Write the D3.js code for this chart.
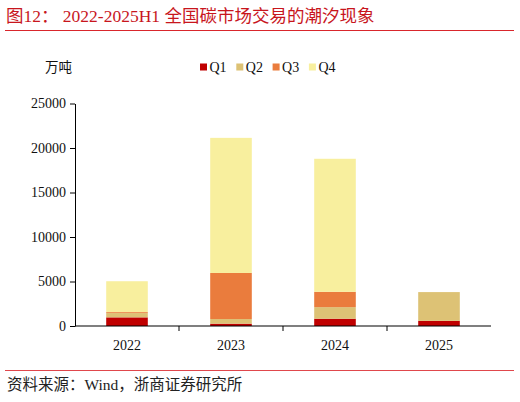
<!DOCTYPE html>
<html>
<head>
<meta charset="utf-8">
<script src="https://cdn.jsdelivr.net/npm/d3@7"></script>
<style>
  body { margin: 0; background: #fff; }
  svg { display: block; }
  .serif { font-family: "Liberation Serif", "Noto Sans CJK SC", serif; }
</style>
</head>
<body>
<div id="chart"></div>
<script>
// data (万吨)
var years = ["2022", "2023", "2024", "2025"];
var quarters = ["Q1", "Q2", "Q3", "Q4"];
var q1 = [970, 260, 820, 580];
var q2 = [480, 520, 1300, 3230];
var q3 = [110, 5180, 1720, 0];
var q4 = [3470, 15180, 14950, 0];
var yTicks = [0, 5000, 10000, 15000, 20000, 25000];
var colors = ["#C00000", "#DDC275", "#EA7C3D", "#F8EF9E"];

var W = 520, H = 402;
var plotLeft = 75, plotRight = 491, plotTop = 103.5, plotBottom = 326;

var svg = d3.select("#chart").append("svg")
    .attr("width", W)
    .attr("height", H);

// title + rules
svg.append("text")
    .attr("class", "serif")
    .attr("x", 6).attr("y", 22)
    .attr("fill", "#C8161D")
    .style("font-size", "17.5px")
    .text("图12：  2022-2025H1 全国碳市场交易的潮汐现象");

svg.append("line")
    .attr("x1", 5).attr("x2", 514)
    .attr("y1", 30.5).attr("y2", 30.5)
    .attr("stroke", "#D9262C").attr("stroke-width", 1.2);

svg.append("line")
    .attr("x1", 5).attr("x2", 514)
    .attr("y1", 370.5).attr("y2", 370.5)
    .attr("stroke", "#E0474C").attr("stroke-width", 1.2);

svg.append("text")
    .attr("class", "serif")
    .attr("x", 7).attr("y", 390)
    .attr("fill", "#222")
    .style("font-size", "15.5px")
    .text("资料来源：Wind，浙商证券研究所");

// rows for the stack
var rows = years.map(function (y, i) {
    return { year: y, Q1: q1[i], Q2: q2[i], Q3: q3[i], Q4: q4[i] };
});
var stacked = d3.stack().keys(quarters)(rows);

var x = d3.scaleBand()
    .domain(years)
    .range([plotLeft, plotRight])
    .paddingInner(0.6)
    .paddingOuter(0.3);

var y = d3.scaleLinear()
    .domain([0, 25000])
    .range([plotBottom, plotTop]);

var color = d3.scaleOrdinal().domain(quarters).range(colors);

// bars
svg.append("g")
    .selectAll("g")
    .data(stacked)
    .enter()
    .append("g")
    .attr("fill", function (d) { return color(d.key); })
    .selectAll("rect")
    .data(function (d) { return d; })
    .enter()
    .append("rect")
    .attr("x", function (d) { return x(d.data.year); })
    .attr("y", function (d) { return y(d[1]); })
    .attr("width", x.bandwidth())
    .attr("height", function (d) { return y(d[0]) - y(d[1]); });

// y axis
var yAxis = svg.append("g")
    .attr("transform", "translate(" + plotLeft + ",0)")
    .call(d3.axisLeft(y).tickValues(yTicks).tickFormat(d3.format("d"))
        .tickSize(5).tickPadding(4).tickSizeOuter(0));
yAxis.select(".domain").attr("stroke", "#000");
yAxis.selectAll("line").attr("stroke", "#000");
yAxis.selectAll("text")
    .attr("class", "serif")
    .attr("fill", "#111")
    .style("font-size", "14px");

// x axis: ticks sit between categories
var gap = x.step() * x.paddingInner() / 2;
var xg = svg.append("g").attr("transform", "translate(0," + plotBottom + ")");
xg.append("line")
    .attr("x1", plotLeft).attr("x2", plotRight)
    .attr("stroke", "#000").attr("stroke-width", 1.2);
xg.selectAll(".tk")
    .data(years.slice(1))
    .enter()
    .append("line")
    .attr("x1", function (d) { return x(d) - gap; })
    .attr("x2", function (d) { return x(d) - gap; })
    .attr("y1", 0).attr("y2", 5)
    .attr("stroke", "#000");
xg.selectAll(".lb")
    .data(years)
    .enter()
    .append("text")
    .attr("class", "serif")
    .attr("x", function (d) { return x(d) + x.bandwidth() / 2; })
    .attr("y", 24)
    .attr("text-anchor", "middle")
    .attr("fill", "#111")
    .style("font-size", "14px")
    .text(function (d) { return d; });

// unit label
svg.append("text")
    .attr("class", "serif")
    .attr("x", 45).attr("y", 72)
    .attr("fill", "#111")
    .style("font-size", "13.5px")
    .text("万吨");

// legend
var lg = svg.append("g").attr("transform", "translate(200,0)");
var item = lg.selectAll("g")
    .data(quarters)
    .enter()
    .append("g")
    .attr("transform", function (d, i) { return "translate(" + (i * 36.3) + ",0)"; });
item.append("rect")
    .attr("x", 0).attr("y", 63.5)
    .attr("width", 7).attr("height", 7)
    .attr("fill", function (d) { return color(d); });
item.append("text")
    .attr("class", "serif")
    .attr("x", 9.5).attr("y", 72)
    .attr("fill", "#111")
    .style("font-size", "14px")
    .text(function (d) { return d; });
</script>
</body>
</html>
